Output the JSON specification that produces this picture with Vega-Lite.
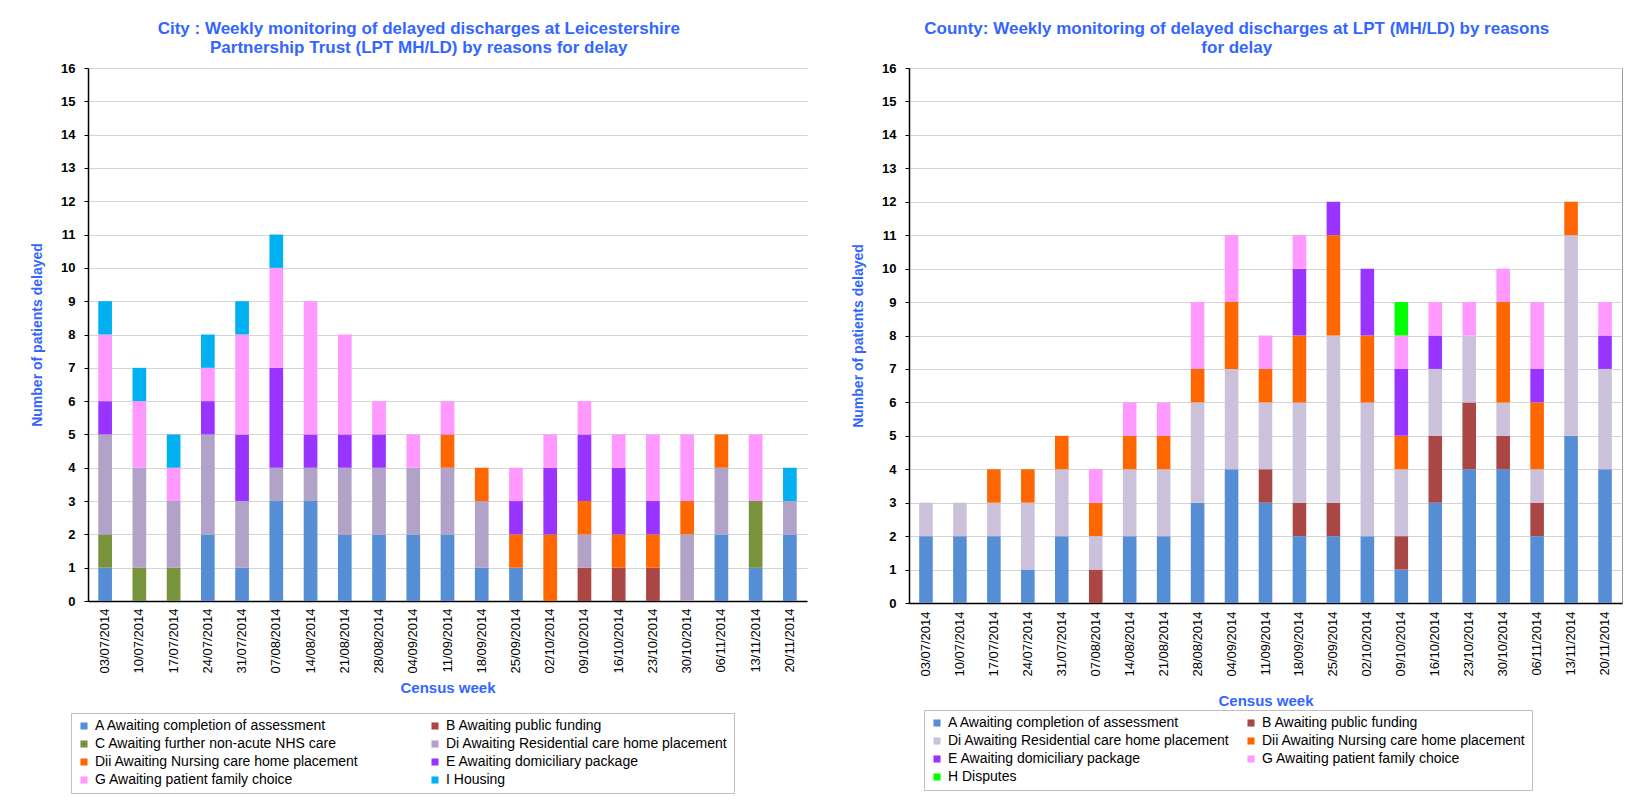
{
"$schema": "https://vega.github.io/schema/vega-lite/v6.json",
"background": "white",
"padding": {"left": 30, "top": 19, "right": 20, "bottom": 5},
"spacing": 44,
"config": {
  "font": "Liberation Sans",
  "view": {"stroke": null},
  "title": {"color": "#3366FF", "fontSize": 17, "fontWeight": "bold", "anchor": "middle", "frame": "bounds", "offset": 5, "lineHeight": 19},
  "axis": {"labelColor": "black", "titleColor": "#3366FF", "titleFontSize": 14, "titleFontWeight": "bold", "domainColor": "black", "domainWidth": 1.5, "tickColor": "black", "gridColor": "#d4d4d4", "gridWidth": 1.2},
  "legend": {"orient": "none", "direction": "horizontal", "columns": 2, "title": null, "symbolType": "square", "symbolSize": 50, "symbolStrokeWidth": 0, "labelFontSize": 14, "labelColor": "black", "labelLimit": 500, "rowPadding": 4, "padding": 6, "strokeColor": "#bfbfbf", "fillColor": "white"}
},
"datasets": {
  "reasons": [
    {"c": "A", "reason": "A Awaiting completion of assessment"},
    {"c": "B", "reason": "B Awaiting public funding"},
    {"c": "C", "reason": "C Awaiting further non-acute NHS care"},
    {"c": "Di", "reason": "Di Awaiting Residential care home placement"},
    {"c": "Dii", "reason": "Dii Awaiting Nursing care home placement"},
    {"c": "E", "reason": "E Awaiting domiciliary package"},
    {"c": "G", "reason": "G Awaiting patient family choice"},
    {"c": "H", "reason": "H Disputes"},
    {"c": "I", "reason": "I Housing"}
  ],
  "city": [
    {"w": "03/07/2014", "c": "A", "n": 1}, {"w": "03/07/2014", "c": "C", "n": 1}, {"w": "03/07/2014", "c": "Di", "n": 3}, {"w": "03/07/2014", "c": "E", "n": 1}, {"w": "03/07/2014", "c": "G", "n": 2}, {"w": "03/07/2014", "c": "I", "n": 1},
    {"w": "10/07/2014", "c": "C", "n": 1}, {"w": "10/07/2014", "c": "Di", "n": 3}, {"w": "10/07/2014", "c": "G", "n": 2}, {"w": "10/07/2014", "c": "I", "n": 1},
    {"w": "17/07/2014", "c": "C", "n": 1}, {"w": "17/07/2014", "c": "Di", "n": 2}, {"w": "17/07/2014", "c": "G", "n": 1}, {"w": "17/07/2014", "c": "I", "n": 1},
    {"w": "24/07/2014", "c": "A", "n": 2}, {"w": "24/07/2014", "c": "Di", "n": 3}, {"w": "24/07/2014", "c": "E", "n": 1}, {"w": "24/07/2014", "c": "G", "n": 1}, {"w": "24/07/2014", "c": "I", "n": 1},
    {"w": "31/07/2014", "c": "A", "n": 1}, {"w": "31/07/2014", "c": "Di", "n": 2}, {"w": "31/07/2014", "c": "E", "n": 2}, {"w": "31/07/2014", "c": "G", "n": 3}, {"w": "31/07/2014", "c": "I", "n": 1},
    {"w": "07/08/2014", "c": "A", "n": 3}, {"w": "07/08/2014", "c": "Di", "n": 1}, {"w": "07/08/2014", "c": "E", "n": 3}, {"w": "07/08/2014", "c": "G", "n": 3}, {"w": "07/08/2014", "c": "I", "n": 1},
    {"w": "14/08/2014", "c": "A", "n": 3}, {"w": "14/08/2014", "c": "Di", "n": 1}, {"w": "14/08/2014", "c": "E", "n": 1}, {"w": "14/08/2014", "c": "G", "n": 4},
    {"w": "21/08/2014", "c": "A", "n": 2}, {"w": "21/08/2014", "c": "Di", "n": 2}, {"w": "21/08/2014", "c": "E", "n": 1}, {"w": "21/08/2014", "c": "G", "n": 3},
    {"w": "28/08/2014", "c": "A", "n": 2}, {"w": "28/08/2014", "c": "Di", "n": 2}, {"w": "28/08/2014", "c": "E", "n": 1}, {"w": "28/08/2014", "c": "G", "n": 1},
    {"w": "04/09/2014", "c": "A", "n": 2}, {"w": "04/09/2014", "c": "Di", "n": 2}, {"w": "04/09/2014", "c": "G", "n": 1},
    {"w": "11/09/2014", "c": "A", "n": 2}, {"w": "11/09/2014", "c": "Di", "n": 2}, {"w": "11/09/2014", "c": "Dii", "n": 1}, {"w": "11/09/2014", "c": "G", "n": 1},
    {"w": "18/09/2014", "c": "A", "n": 1}, {"w": "18/09/2014", "c": "Di", "n": 2}, {"w": "18/09/2014", "c": "Dii", "n": 1},
    {"w": "25/09/2014", "c": "A", "n": 1}, {"w": "25/09/2014", "c": "Dii", "n": 1}, {"w": "25/09/2014", "c": "E", "n": 1}, {"w": "25/09/2014", "c": "G", "n": 1},
    {"w": "02/10/2014", "c": "Dii", "n": 2}, {"w": "02/10/2014", "c": "E", "n": 2}, {"w": "02/10/2014", "c": "G", "n": 1},
    {"w": "09/10/2014", "c": "B", "n": 1}, {"w": "09/10/2014", "c": "Di", "n": 1}, {"w": "09/10/2014", "c": "Dii", "n": 1}, {"w": "09/10/2014", "c": "E", "n": 2}, {"w": "09/10/2014", "c": "G", "n": 1},
    {"w": "16/10/2014", "c": "B", "n": 1}, {"w": "16/10/2014", "c": "Dii", "n": 1}, {"w": "16/10/2014", "c": "E", "n": 2}, {"w": "16/10/2014", "c": "G", "n": 1},
    {"w": "23/10/2014", "c": "B", "n": 1}, {"w": "23/10/2014", "c": "Dii", "n": 1}, {"w": "23/10/2014", "c": "E", "n": 1}, {"w": "23/10/2014", "c": "G", "n": 2},
    {"w": "30/10/2014", "c": "Di", "n": 2}, {"w": "30/10/2014", "c": "Dii", "n": 1}, {"w": "30/10/2014", "c": "G", "n": 2},
    {"w": "06/11/2014", "c": "A", "n": 2}, {"w": "06/11/2014", "c": "Di", "n": 2}, {"w": "06/11/2014", "c": "Dii", "n": 1},
    {"w": "13/11/2014", "c": "A", "n": 1}, {"w": "13/11/2014", "c": "C", "n": 2}, {"w": "13/11/2014", "c": "G", "n": 2},
    {"w": "20/11/2014", "c": "A", "n": 2}, {"w": "20/11/2014", "c": "Di", "n": 1}, {"w": "20/11/2014", "c": "I", "n": 1}
  ],
  "county": [
    {"w": "03/07/2014", "c": "A", "n": 2}, {"w": "03/07/2014", "c": "Di", "n": 1},
    {"w": "10/07/2014", "c": "A", "n": 2}, {"w": "10/07/2014", "c": "Di", "n": 1},
    {"w": "17/07/2014", "c": "A", "n": 2}, {"w": "17/07/2014", "c": "Di", "n": 1}, {"w": "17/07/2014", "c": "Dii", "n": 1},
    {"w": "24/07/2014", "c": "A", "n": 1}, {"w": "24/07/2014", "c": "Di", "n": 2}, {"w": "24/07/2014", "c": "Dii", "n": 1},
    {"w": "31/07/2014", "c": "A", "n": 2}, {"w": "31/07/2014", "c": "Di", "n": 2}, {"w": "31/07/2014", "c": "Dii", "n": 1},
    {"w": "07/08/2014", "c": "B", "n": 1}, {"w": "07/08/2014", "c": "Di", "n": 1}, {"w": "07/08/2014", "c": "Dii", "n": 1}, {"w": "07/08/2014", "c": "G", "n": 1},
    {"w": "14/08/2014", "c": "A", "n": 2}, {"w": "14/08/2014", "c": "Di", "n": 2}, {"w": "14/08/2014", "c": "Dii", "n": 1}, {"w": "14/08/2014", "c": "G", "n": 1},
    {"w": "21/08/2014", "c": "A", "n": 2}, {"w": "21/08/2014", "c": "Di", "n": 2}, {"w": "21/08/2014", "c": "Dii", "n": 1}, {"w": "21/08/2014", "c": "G", "n": 1},
    {"w": "28/08/2014", "c": "A", "n": 3}, {"w": "28/08/2014", "c": "Di", "n": 3}, {"w": "28/08/2014", "c": "Dii", "n": 1}, {"w": "28/08/2014", "c": "G", "n": 2},
    {"w": "04/09/2014", "c": "A", "n": 4}, {"w": "04/09/2014", "c": "Di", "n": 3}, {"w": "04/09/2014", "c": "Dii", "n": 2}, {"w": "04/09/2014", "c": "G", "n": 2},
    {"w": "11/09/2014", "c": "A", "n": 3}, {"w": "11/09/2014", "c": "B", "n": 1}, {"w": "11/09/2014", "c": "Di", "n": 2}, {"w": "11/09/2014", "c": "Dii", "n": 1}, {"w": "11/09/2014", "c": "G", "n": 1},
    {"w": "18/09/2014", "c": "A", "n": 2}, {"w": "18/09/2014", "c": "B", "n": 1}, {"w": "18/09/2014", "c": "Di", "n": 3}, {"w": "18/09/2014", "c": "Dii", "n": 2}, {"w": "18/09/2014", "c": "E", "n": 2}, {"w": "18/09/2014", "c": "G", "n": 1},
    {"w": "25/09/2014", "c": "A", "n": 2}, {"w": "25/09/2014", "c": "B", "n": 1}, {"w": "25/09/2014", "c": "Di", "n": 5}, {"w": "25/09/2014", "c": "Dii", "n": 3}, {"w": "25/09/2014", "c": "E", "n": 1},
    {"w": "02/10/2014", "c": "A", "n": 2}, {"w": "02/10/2014", "c": "Di", "n": 4}, {"w": "02/10/2014", "c": "Dii", "n": 2}, {"w": "02/10/2014", "c": "E", "n": 2},
    {"w": "09/10/2014", "c": "A", "n": 1}, {"w": "09/10/2014", "c": "B", "n": 1}, {"w": "09/10/2014", "c": "Di", "n": 2}, {"w": "09/10/2014", "c": "Dii", "n": 1}, {"w": "09/10/2014", "c": "E", "n": 2}, {"w": "09/10/2014", "c": "G", "n": 1}, {"w": "09/10/2014", "c": "H", "n": 1},
    {"w": "16/10/2014", "c": "A", "n": 3}, {"w": "16/10/2014", "c": "B", "n": 2}, {"w": "16/10/2014", "c": "Di", "n": 2}, {"w": "16/10/2014", "c": "E", "n": 1}, {"w": "16/10/2014", "c": "G", "n": 1},
    {"w": "23/10/2014", "c": "A", "n": 4}, {"w": "23/10/2014", "c": "B", "n": 2}, {"w": "23/10/2014", "c": "Di", "n": 2}, {"w": "23/10/2014", "c": "G", "n": 1},
    {"w": "30/10/2014", "c": "A", "n": 4}, {"w": "30/10/2014", "c": "B", "n": 1}, {"w": "30/10/2014", "c": "Di", "n": 1}, {"w": "30/10/2014", "c": "Dii", "n": 3}, {"w": "30/10/2014", "c": "G", "n": 1},
    {"w": "06/11/2014", "c": "A", "n": 2}, {"w": "06/11/2014", "c": "B", "n": 1}, {"w": "06/11/2014", "c": "Di", "n": 1}, {"w": "06/11/2014", "c": "Dii", "n": 2}, {"w": "06/11/2014", "c": "E", "n": 1}, {"w": "06/11/2014", "c": "G", "n": 2},
    {"w": "13/11/2014", "c": "A", "n": 5}, {"w": "13/11/2014", "c": "Di", "n": 6}, {"w": "13/11/2014", "c": "Dii", "n": 1},
    {"w": "20/11/2014", "c": "A", "n": 4}, {"w": "20/11/2014", "c": "Di", "n": 3}, {"w": "20/11/2014", "c": "E", "n": 1}, {"w": "20/11/2014", "c": "G", "n": 1}
  ]
},
"hconcat": [
  {
    "width": 719, "height": 533,
    "title": {"text": ["City : Weekly monitoring of delayed discharges at Leicestershire", "Partnership Trust (LPT MH/LD) by reasons for delay"]},
    "data": {"name": "city"},
    "transform": [{"lookup": "c", "from": {"data": {"name": "reasons"}, "key": "c", "fields": ["reason"]}}],
    "mark": {"type": "bar", "width": {"band": 0.4}},
    "encoding": {
      "x": {"field": "w", "type": "ordinal", "sort": null, "scale": {"paddingInner": 0, "paddingOuter": 0},
            "axis": {"title": "Census week", "titleFontSize": 15, "labelAngle": -90, "labelFontSize": 13, "labelPadding": 7, "ticks": false, "grid": false, "titlePadding": 7}},
      "y": {"field": "n", "type": "quantitative", "stack": "zero", "scale": {"domain": [0, 16], "nice": false},
            "axis": {"title": "Number of patients delayed", "values": [0,1,2,3,4,5,6,7,8,9,10,11,12,13,14,15,16], "grid": true, "labelFontWeight": "bold", "labelFontSize": 13, "tickSize": 4, "labelPadding": 9, "titlePadding": 16}},
      "color": {"field": "reason", "type": "nominal",
        "scale": {"domain": ["A Awaiting completion of assessment", "B Awaiting public funding", "C Awaiting further non-acute NHS care", "Di Awaiting Residential care home placement", "Dii Awaiting Nursing care home placement", "E Awaiting domiciliary package", "G Awaiting patient family choice", "I Housing"],
                  "range": ["#558ED5", "#AA4643", "#77933C", "#B3A2C7", "#FF6600", "#9933FF", "#FF99FF", "#00B0F0"]},
        "legend": {"legendX": -17, "legendY": 645, "columnPadding": 69}},
      "order": {"field": "c"}
    }
  },
  {
    "width": 713, "height": 535,
    "view": {"stroke": "#999999", "strokeWidth": 1},
    "title": {"text": ["County:  Weekly monitoring of delayed discharges at LPT (MH/LD) by reasons", "for delay"]},
    "data": {"name": "county"},
    "transform": [{"lookup": "c", "from": {"data": {"name": "reasons"}, "key": "c", "fields": ["reason"]}}],
    "mark": {"type": "bar", "width": {"band": 0.4}},
    "encoding": {
      "x": {"field": "w", "type": "ordinal", "sort": null, "scale": {"paddingInner": 0, "paddingOuter": 0},
            "axis": {"title": "Census week", "titleFontSize": 15, "labelAngle": -90, "labelFontSize": 13, "labelPadding": 8, "ticks": false, "grid": false, "titlePadding": 17}},
      "y": {"field": "n", "type": "quantitative", "stack": "zero", "scale": {"domain": [0, 16], "nice": false},
            "axis": {"title": "Number of patients delayed", "values": [0,1,2,3,4,5,6,7,8,9,10,11,12,13,14,15,16], "grid": true, "labelFontWeight": "bold", "labelFontSize": 13, "tickSize": 4, "labelPadding": 9, "titlePadding": 16}},
      "color": {"field": "reason", "type": "nominal",
        "scale": {"domain": ["A Awaiting completion of assessment", "B Awaiting public funding", "Di Awaiting Residential care home placement", "Dii Awaiting Nursing care home placement", "E Awaiting domiciliary package", "G Awaiting patient family choice", "H Disputes"],
                  "range": ["#558ED5", "#AA4643", "#CCC1DA", "#FF6600", "#9933FF", "#FF99FF", "#00FF00"]},
        "legend": {"legendX": 15, "legendY": 642, "columnPadding": 14}},
      "order": {"field": "c"}
    }
  }
],
"resolve": {"scale": {"color": "independent"}, "legend": {"color": "independent"}}
}
